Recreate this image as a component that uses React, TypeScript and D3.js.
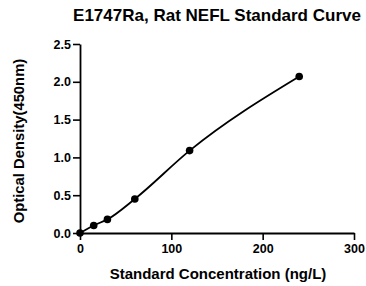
import React, { useEffect, useRef } from "react";
import * as d3 from "d3";

// standard curve points
const concentrations = [0, 15, 30, 60, 120, 240];
const densities = [0.0, 0.1, 0.18, 0.45, 1.09, 2.07];
const xTicks = [0, 100, 200, 300];
const yTicks = [0, 0.5, 1.0, 1.5, 2.0, 2.5];

const W = 366;
const H = 286;
const margin = { top: 44, right: 12, bottom: 53, left: 80 };
const font = "'Liberation Sans', Arial, sans-serif";

export default function App() {
  const ref = useRef<SVGSVGElement>(null);

  useEffect(() => {
    const svg = d3.select(ref.current);
    svg.selectAll("*").remove();

    const x = d3.scaleLinear().domain([0, 300]).range([margin.left, W - margin.right]);
    const y = d3.scaleLinear().domain([0, 2.5]).range([H - margin.bottom, margin.top]);

    // title
    svg.append("text")
      .attr("x", 217)
      .attr("y", 20.5)
      .attr("text-anchor", "middle")
      .attr("font-family", font)
      .attr("font-weight", "bold")
      .attr("font-size", 17)
      .text("E1747Ra, Rat NEFL Standard Curve");

    // x axis with minor ticks
    const gx = svg.append("g").attr("transform", `translate(0,${y(0)})`);
    gx.call(d3.axisBottom(x).tickValues(d3.range(0, 301, 10)).tickSize(4).tickFormat(() => ""))
      .call(g => g.select(".domain").remove());
    gx.call(d3.axisBottom(x).tickValues(xTicks).tickSize(7).tickSizeOuter(0).tickPadding(4).tickFormat(d3.format("d")));
    gx.selectAll("line").attr("stroke-width", 1.6);
    gx.selectAll(".domain").attr("stroke-width", 1.8);
    gx.selectAll("text")
      .attr("font-family", font)
      .attr("font-weight", "bold")
      .attr("font-size", 12.5)
      .attr("fill", "#000");

    // y axis
    const gy = svg.append("g").attr("transform", `translate(${x(0)},0)`);
    gy.call(d3.axisLeft(y).tickValues(yTicks).tickSize(7).tickSizeOuter(0).tickPadding(2).tickFormat(d3.format(".1f")));
    gy.selectAll("line").attr("stroke-width", 1.6);
    gy.selectAll(".domain").attr("stroke-width", 1.8);
    gy.selectAll("text")
      .attr("font-family", font)
      .attr("font-weight", "bold")
      .attr("font-size", 12.5)
      .attr("fill", "#000");

    // axis titles
    svg.append("text")
      .attr("x", 218)
      .attr("y", 279)
      .attr("text-anchor", "middle")
      .attr("font-family", font)
      .attr("font-weight", "bold")
      .attr("font-size", 15)
      .text("Standard Concentration (ng/L)");

    svg.append("text")
      .attr("transform", `translate(24,141) rotate(-90)`)
      .attr("text-anchor", "middle")
      .attr("font-family", font)
      .attr("font-weight", "bold")
      .attr("font-size", 14.8)
      .text("Optical Density(450nm)");

    const pts = concentrations.map((c, i) => [c, densities[i]] as [number, number]);

    // fitted curve
    const line = d3.line<[number, number]>()
      .x(d => x(d[0]))
      .y(d => y(d[1]))
      .curve(d3.curveMonotoneX);
    svg.append("path")
      .datum(pts)
      .attr("d", line)
      .attr("fill", "none")
      .attr("stroke", "#000")
      .attr("stroke-width", 1.8);

    svg.append("g")
      .selectAll("circle")
      .data(pts)
      .join("circle")
      .attr("cx", d => x(d[0]))
      .attr("cy", d => y(d[1]))
      .attr("r", 3.8)
      .attr("fill", "#000");
  }, []);

  return (
    <svg
      ref={ref}
      width={W}
      height={H}
      style={{ position: "absolute", left: 0, top: 0, background: "#fff" }}
    />
  );
}
